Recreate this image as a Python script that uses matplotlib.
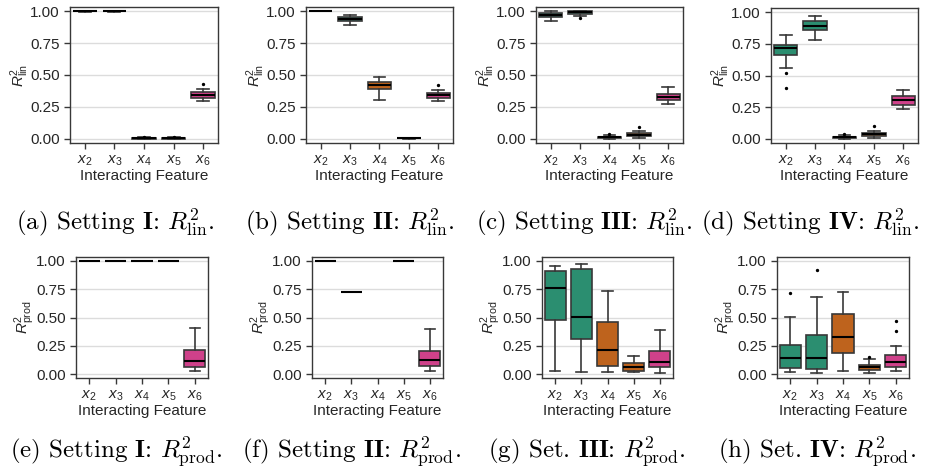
import colorsys

import matplotlib
matplotlib.use("Agg")
import matplotlib.pyplot as plt
import matplotlib.colors as mcolors

plt.rcParams.update({
    "font.family": ["Liberation Sans", "DejaVu Sans"],
    "mathtext.fontset": "custom",
    "mathtext.rm": "Liberation Sans",
    "mathtext.it": "Liberation Sans:italic",
    "mathtext.bf": "Liberation Sans:bold",
})

# ---- data: box statistics per feature as (whislo, q1, median, q3, whishi) ----
features = [r"$x_2$", r"$x_3$", r"$x_4$", r"$x_5$", r"$x_6$"]
yticks = [0.0, 0.25, 0.50, 0.75, 1.00]

lin_I = [(0.996, 0.998, 0.999, 1.000, 1.000),
         (0.996, 0.998, 0.999, 1.000, 1.000),
         (0.001, 0.003, 0.005, 0.008, 0.013),
         (0.001, 0.003, 0.005, 0.008, 0.013),
         (0.299, 0.322, 0.343, 0.364, 0.387)]
lin_I_fliers = [[], [], [0.018], [0.016], [0.426]]

lin_II = [(0.997, 0.999, 1.000, 1.000, 1.000),
          (0.891, 0.925, 0.940, 0.956, 0.969),
          (0.304, 0.387, 0.418, 0.449, 0.488),
          (0.002, 0.004, 0.006, 0.008, 0.011),
          (0.299, 0.322, 0.340, 0.361, 0.382)]
lin_II_fliers = [[], [], [], [], [0.423]]

lin_III = [(0.922, 0.953, 0.969, 0.982, 0.997),
           (0.958, 0.979, 0.990, 0.997, 1.000),
           (0.000, 0.007, 0.012, 0.018, 0.028),
           (0.008, 0.021, 0.034, 0.049, 0.065),
           (0.270, 0.304, 0.327, 0.348, 0.403)]
lin_III_fliers = [[], [0.945], [0.036], [0.096], []]

lin_IV = [(0.558, 0.660, 0.717, 0.738, 0.823),
          (0.779, 0.855, 0.891, 0.927, 0.966),
          (0.000, 0.006, 0.012, 0.018, 0.028),
          (0.008, 0.021, 0.036, 0.047, 0.065),
          (0.236, 0.270, 0.304, 0.340, 0.384)]
lin_IV_fliers = [[0.522, 0.405], [], [0.040], [0.104], []]

prod_I = [(0.997, 0.999, 1.000, 1.000, 1.000),
          (0.997, 0.999, 1.000, 1.000, 1.000),
          (0.997, 0.999, 1.000, 1.000, 1.000),
          (0.997, 0.999, 1.000, 1.000, 1.000),
          (0.032, 0.061, 0.117, 0.216, 0.405)]
prod_I_fliers = [[], [], [], [], []]

prod_II = [(0.996, 0.998, 1.000, 1.000, 1.000),
           (0.726, 0.726, 0.726, 0.726, 0.726),
           None,
           (0.993, 0.998, 1.000, 1.000, 1.000),
           (0.026, 0.073, 0.122, 0.207, 0.399)]
prod_II_fliers = [[], [], [], [], []]

prod_III = [(0.032, 0.478, 0.758, 0.910, 0.950),
            (0.020, 0.309, 0.504, 0.927, 0.974),
            (0.023, 0.076, 0.216, 0.458, 0.735),
            (0.017, 0.032, 0.064, 0.099, 0.160),
            (0.015, 0.067, 0.108, 0.204, 0.391)]
prod_III_fliers = [[], [], [], [], []]

prod_IV = [(0.017, 0.058, 0.146, 0.259, 0.504),
           (0.015, 0.044, 0.146, 0.344, 0.679),
           (0.029, 0.192, 0.332, 0.534, 0.723),
           (0.015, 0.038, 0.061, 0.082, 0.131),
           (0.026, 0.067, 0.111, 0.172, 0.248)]
prod_IV_fliers = [[0.714], [0.918], [], [0.152], [0.379, 0.466]]

captions = [
    r"(a) Setting $\mathbf{I}$: $R^2_{\mathrm{lin}}$.",
    r"(b) Setting $\mathbf{II}$: $R^2_{\mathrm{lin}}$.",
    r"(c) Setting $\mathbf{III}$: $R^2_{\mathrm{lin}}$.",
    r"(d) Setting $\mathbf{IV}$: $R^2_{\mathrm{lin}}$.",
    r"(e) Setting $\mathbf{I}$: $R^2_{\mathrm{prod}}$.",
    r"(f) Setting $\mathbf{II}$: $R^2_{\mathrm{prod}}$.",
    r"(g) Set. $\mathbf{III}$: $R^2_{\mathrm{prod}}$.",
    r"(h) Set. $\mathbf{IV}$: $R^2_{\mathrm{prod}}$.",
]


def desaturate(hex_color, prop=0.75):
    r, g, b = mcolors.to_rgb(hex_color)
    h, l, s = colorsys.rgb_to_hls(r, g, b)
    return colorsys.hls_to_rgb(h, l, s * prop)


green, orange, pink = (desaturate(c) for c in ("#1b9e77", "#d95f02", "#e7298a"))
box_colors = [green, green, orange, orange, pink]
EDGE = "0.22"

W, H = 928, 471
fig = plt.figure(figsize=(W / 100, H / 100), dpi=100)


def px_axes(left, top, right, bottom):
    return fig.add_axes([left / W, 1 - bottom / H, (right - left) / W, (bottom - top) / H])


def draw_panel(ax, stats, fliers, ylabel):
    ax.set_xlim(-0.5, 4.5)
    ax.set_ylim(-0.032, 1.032)
    ax.yaxis.grid(True, color="#dcdcdc", lw=1.0)
    ax.set_axisbelow(True)
    for i, (s, fl) in enumerate(zip(stats, fliers)):
        if s is None:
            continue
        lo, q1, med, q3, hi = s
        ax.bxp([dict(whislo=lo, q1=q1, med=med, q3=q3, whishi=hi, fliers=fl)],
               positions=[i], widths=0.8, capwidths=0.4, patch_artist=True,
               manage_ticks=False,
               boxprops=dict(facecolor=box_colors[i], edgecolor=EDGE, lw=1.2),
               medianprops=dict(color="black", lw=1.5),
               whiskerprops=dict(color=EDGE, lw=1.2),
               capprops=dict(color=EDGE, lw=1.2),
               flierprops=dict(marker="o", ms=1.4, mfc="black", mec="black"))
    ax.set_xticks(range(len(features)))
    ax.set_xticklabels(features)
    ax.set_yticks(yticks)
    ax.set_yticklabels([f"{v:.2f}" for v in yticks])
    ax.tick_params(direction="out", length=4, width=1.0, color=EDGE,
                   labelcolor="0.15", labelsize=11)
    for sp in ax.spines.values():
        sp.set_color(EDGE)
        sp.set_linewidth(1.0)
    ax.set_xlabel("Interacting Feature", fontsize=11, color="0.15", labelpad=1)
    ax.set_ylabel(ylabel, fontsize=11, color="0.15", labelpad=-1)


top_boxes = [(70, 7, 218, 143), (306, 7, 453, 143), (536, 7, 683, 143), (771, 8, 918, 143)]
bottom_boxes = [(76, 257, 208, 378), (312, 257, 443, 378), (542, 257, 673, 378), (777, 257, 909, 378)]

lin_panels = [(lin_I, lin_I_fliers), (lin_II, lin_II_fliers),
              (lin_III, lin_III_fliers), (lin_IV, lin_IV_fliers)]
prod_panels = [(prod_I, prod_I_fliers), (prod_II, prod_II_fliers),
               (prod_III, prod_III_fliers), (prod_IV, prod_IV_fliers)]

for box, (st, fl) in zip(top_boxes, lin_panels):
    draw_panel(px_axes(*box), st, fl, r"$R^2_{\mathrm{lin}}$")
for box, (st, fl) in zip(bottom_boxes, prod_panels):
    draw_panel(px_axes(*box), st, fl, r"$R^2_{\mathrm{prod}}$")

caption_x = [115, 350, 584, 810, 116, 351, 587, 817]
caption_y = [229, 229, 229, 229, 458, 458, 458, 458]
for cx, cy, text in zip(caption_x, caption_y, captions):
    fig.text(cx / W, 1 - cy / H, text, ha="center", va="baseline",
             fontsize=18, family="cmr10", math_fontfamily="cm", color="black")

fig.savefig("out.png", dpi=100)
